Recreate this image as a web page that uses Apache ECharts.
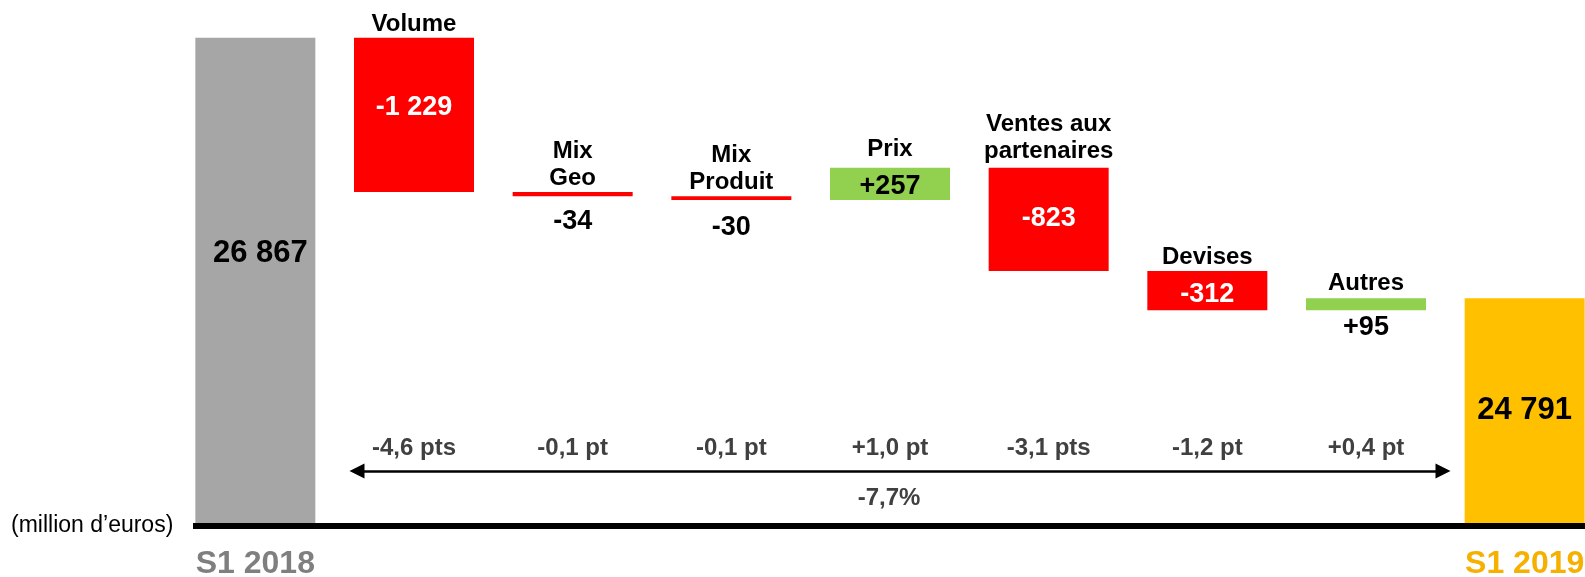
<!DOCTYPE html>
<html>
<head>
<meta charset="utf-8">
<script src="https://cdn.jsdelivr.net/npm/echarts@6/dist/echarts.min.js"></script>
<style>
  html, body { margin: 0; padding: 0; background: #fff; }
  #main { width: 1585px; height: 577px; }
</style>
</head>
<body>
<div id="main"></div>
<script>
  // data (million d'euros)
  var categories = ['S1 2018', 'Volume', 'Mix Geo', 'Mix Produit', 'Prix', 'Ventes aux partenaires', 'Devises', 'Autres', 'S1 2019'];
  var stepNames = ['', 'Volume', 'Mix\nGeo', 'Mix\nProduit', 'Prix', 'Ventes aux\npartenaires', 'Devises', 'Autres', ''];
  var values = [26867, -1229, -34, -30, 257, -823, -312, 95, 24791];
  var isTotal = [true, false, false, false, false, false, false, false, true];
  var ptsLabels = ['', '-4,6 pts', '-0,1 pt', '-0,1 pt', '+1,0 pt', '-3,1 pts', '-1,2 pt', '+0,4 pt', ''];
  var totalChange = '-7,7%';

  var FONT = '"Liberation Sans", Arial, sans-serif';

  // small per-bar nudges of the labels, to sit like on the slide
  var valueNudge = [[5, -27], [0, -7], [0, 12], [0, 14], [0, 3], [0, -1], [0, 4], [0, 4], [0, 0]];
  var nameGap = [0, 0, 0, 0, 5, 3, 0, 1, 0];

  function fmt(v, signed) {
    var s = String(Math.abs(v)).replace(/\B(?=(\d{3})+(?!\d))/g, ' ');
    if (!signed) return s;
    return (v < 0 ? '-' : '+') + s;
  }

  // waterfall: transparent base + visible step + zero cap for the step name
  var baseData = [], stepData = [], capData = [];
  var running = 0;
  for (var i = 0; i < values.length; i++) {
    var v = values[i];
    var color, label;
    if (isTotal[i]) {
      running = v;
      baseData.push(0);
      color = i === 0 ? '#A6A6A6' : '#FFC000';
      label = {
        show: true, position: 'inside', formatter: fmt(v, false),
        fontSize: 31, color: '#000', offset: valueNudge[i]
      };
      stepData.push({ value: v, itemStyle: { color: color }, label: label });
    } else {
      var start = running, end = running + v;
      running = end;
      baseData.push(Math.min(start, end));
      color = v < 0 ? '#FF0000' : '#92D050';
      if (Math.abs(v) < 100) {
        label = { show: true, position: 'bottom', distance: valueNudge[i][1], color: '#000', fontSize: 27, formatter: fmt(v, true) };
      } else {
        label = { show: true, position: 'inside', color: v < 0 ? '#fff' : '#000', fontSize: 27, formatter: fmt(v, true), offset: valueNudge[i] };
      }
      stepData.push({ value: Math.abs(v), itemStyle: { color: color }, label: label });
    }
    capData.push({ value: 0, label: { show: stepNames[i] !== '', formatter: stepNames[i], distance: nameGap[i] } });
  }

  var chart = echarts.init(document.getElementById('main'));
  var option = {
    animation: false,
    textStyle: { fontFamily: FONT, fontWeight: 'bold' },
    title: {
      text: '(million d\u2019euros)', left: 6, top: 509,
      textStyle: { fontFamily: FONT, fontWeight: 'normal', fontSize: 23, color: '#000' }
    },
    grid: { left: 176, right: -19, top: 21, bottom: 54, containLabel: false, outerBoundsMode: 'none' },
    xAxis: [
      {
        type: 'category', data: categories,
        axisLine: { show: false }, axisTick: { show: false },
        axisLabel: {
          interval: 0, margin: 25, fontSize: 32, fontFamily: FONT, fontWeight: 'bold',
          formatter: function (val, idx) {
            if (idx === 0) return '{a|' + val + '}';
            if (idx === categories.length - 1) return '{b|' + val + '}';
            return '';
          },
          rich: {
            a: { fontSize: 32, fontFamily: FONT, fontWeight: 'bold', color: '#7F7F7F' },
            b: { fontSize: 32, fontFamily: FONT, fontWeight: 'bold', color: '#F5B000' }
          }
        }
      },
      {
        type: 'category', data: categories, position: 'bottom', offset: -87,
        axisLine: { show: false }, axisTick: { show: false },
        axisLabel: {
          interval: 0, margin: 0, fontSize: 24, fontFamily: FONT, fontWeight: 'bold', color: '#404040',
          formatter: function (val, idx) { return ptsLabels[idx]; }
        }
      }
    ],
    yAxis: { type: 'value', min: 23000, max: 27000, show: false, splitLine: { show: false } },
    series: [
      {
        type: 'bar', stack: 'wf', barWidth: 120, silent: true,
        itemStyle: { color: 'transparent' }, data: baseData,
        markLine: {
          silent: true, symbol: 'none', animation: false,
          lineStyle: { color: '#000', width: 6, type: 'solid' },
          label: { show: false },
          data: [[{ x: 193, y: 526 }, { x: 1585, y: 526 }]]
        }
      },
      {
        type: 'bar', stack: 'wf', barWidth: 120, data: stepData,
        label: { fontFamily: FONT, fontWeight: 'bold' },
        markLine: {
          silent: true, symbol: ['triangle', 'triangle'], symbolSize: [15, 15], animation: false,
          lineStyle: { color: '#000', width: 2.5, type: 'solid' },
          itemStyle: { color: '#000' },
          label: {
            show: true, position: 'insideMiddleBottom', distance: 15, formatter: totalChange,
            fontSize: 24, fontFamily: FONT, fontWeight: 'bold', color: '#404040', padding: [0, 22, 0, 0]
          },
          data: [[{ x: 357, y: 471 }, { x: 1443, y: 471 }]]
        }
      },
      {
        type: 'bar', stack: 'wf', barWidth: 120, data: capData,
        label: {
          position: 'top', fontSize: 24, lineHeight: 27,
          fontFamily: FONT, fontWeight: 'bold', color: '#000'
        }
      }
    ]
  };
  chart.setOption(option);
</script>
</body>
</html>
